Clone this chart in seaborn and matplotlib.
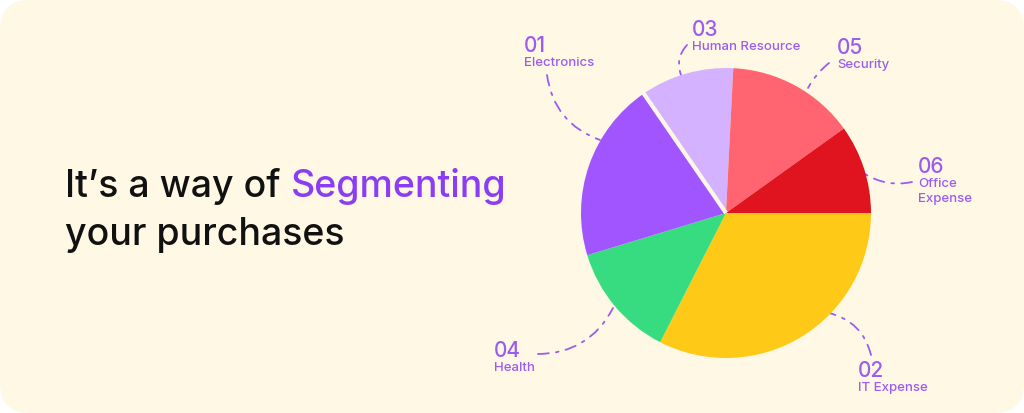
import matplotlib
matplotlib.use("Agg")
import numpy as np
import matplotlib.pyplot as plt
from matplotlib.patches import FancyBboxPatch
import seaborn as sns

# Data (clockwise from 3 o'clock)
categories = ["IT Expense", "Health", "Electronics", "Human Resource", "Security", "Office\nExpense"]
numbers = ["02", "04", "01", "03", "05", "06"]
shares = [32.5, 12.8, 20.1, 10.4, 14.3, 9.9]
slice_colors = ["#FFC917", "#38DC80", "#A155FF", "#D4B2FF", "#FF6470", "#E0141F"]

# Layout (pixel coords, y down)
label_xy = [(858, 370), (494, 350), (524, 45), (692, 29), (837, 47), (918, 166)]
line_start = [(871, 355), (538, 354), (547, 75), (687, 45), (829, 63), (912, 182)]
line_end = [(829, 313), (613, 308), (600, 140), (681, 75), (808, 88), (865, 174)]
line_rad = [0.3, 0.3, 0.3, 0.3, 0.1, -0.2]

sns.set_theme(style="white")
plt.rcParams['font.family'] = ['Inter', 'DejaVu Sans']

BG = "#FFF8E4"
LABEL = "#9B5CF0"
W, H = 1024, 413
fig = plt.figure(figsize=(W / 100, H / 100), dpi=100)
fig.patch.set_facecolor("white")

bg = fig.add_axes([0, 0, 1, 1])
bg.set_xlim(0, W)
bg.set_ylim(H, 0)
bg.axis("off")
bg.add_patch(FancyBboxPatch((0, 0), W, H, boxstyle="round,pad=0,rounding_size=30",
                            fc=BG, ec="none"))

# pie
cx, cy, r = 726, 213, 145
pie_ax = fig.add_axes([(cx - r) / W, (H - cy - r) / H, 2 * r / W, 2 * r / H])
pie_ax.set_facecolor("none")
pie_ax.pie(shares, colors=sns.color_palette(slice_colors), startangle=0,
           counterclock=False, radius=1, wedgeprops=dict(linewidth=0))
# thin gap between Electronics and Human Resource
gap_ang = np.deg2rad(-np.sum(shares[:3]) * 3.6)
pie_ax.plot([0, 1.02 * np.cos(gap_ang)], [0, 1.02 * np.sin(gap_ang)], color=BG, lw=3,
            solid_capstyle="butt")
pie_ax.set_xlim(-1, 1)
pie_ax.set_ylim(-1, 1)
pie_ax.axis("off")

# leader lines + labels
for num, name, (lx, ly), s, e, rad in zip(numbers, categories, label_xy,
                                          line_start, line_end, line_rad):
    bg.annotate("", xy=e, xytext=s,
                arrowprops=dict(arrowstyle="-", color=LABEL, lw=1.3,
                                linestyle=(0, (6, 4, 1.5, 4)),
                                connectionstyle=f"arc3,rad={rad}",
                                shrinkA=0, shrinkB=0))
    bg.text(lx, ly + 1, num, color=LABEL, fontsize=15, fontweight="medium",
            ha="left", va="center")
    bg.text(lx, ly + 12, name, color=LABEL, fontsize=9.5, fontweight="medium",
            ha="left", va="top", linespacing=1.3)

# heading
t1 = bg.text(65, 197, "It’s a way of", color="#111111", fontsize=27,
             fontweight="medium", ha="left", va="baseline")
bg.text(65, 245, "your purchases", color="#111111", fontsize=27,
        fontweight="medium", ha="left", va="baseline")
fig.canvas.draw()
bb = t1.get_window_extent()
x_end = bg.transData.inverted().transform((bb.x1, bb.y0))[0]
bg.text(x_end + 10, 197, "Segmenting", color="#8A3DF5", fontsize=27,
        fontweight="medium", ha="left", va="baseline")

fig.savefig("out.png", dpi=100, facecolor="white")
